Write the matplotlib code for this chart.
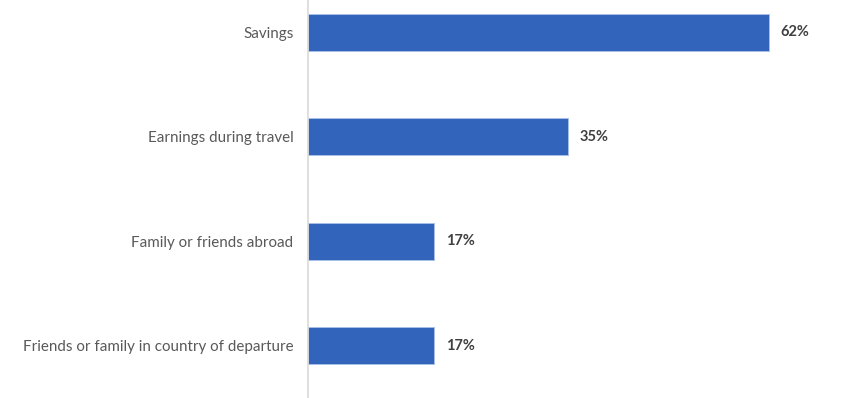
import matplotlib
matplotlib.use("Agg")
import matplotlib.pyplot as plt

categories = [
    "Savings",
    "Earnings during travel",
    "Family or friends abroad",
    "Friends or family in country of departure",
]
values = [62, 35, 17, 17]
value_labels = ["62%", "35%", "17%", "17%"]

W, H = 843, 398
fig = plt.figure(figsize=(W / 100, H / 100), dpi=100)
ax = fig.add_axes([308 / W, 0, 1 - 308 / W, 1])

ypos = list(range(len(categories)))
ax.barh(ypos, values, height=0.355, color="#3364BC",
        edgecolor="#A9C0E8", linewidth=0.6)

ax.set_xlim(0, 71.9)
ax.set_ylim(3.5, -0.31)

ax.set_yticks(ypos)
ax.set_yticklabels(categories, fontsize=10.9, color="#595959", family="Lato")
ax.tick_params(axis="y", length=0, pad=10.5)
ax.set_xticks([])

for s in ["top", "right", "bottom"]:
    ax.spines[s].set_visible(False)
ax.spines["left"].set_color("#D9D9D9")
ax.spines["left"].set_linewidth(1.2)

for y, v, lab in zip(ypos, values, value_labels):
    ax.annotate(lab, (v, y), xytext=(8, 0), textcoords="offset points",
                va="center", ha="left", fontsize=10.5, fontweight="bold",
                color="#404040", family="Lato")

fig.savefig("out.png", dpi=100)
